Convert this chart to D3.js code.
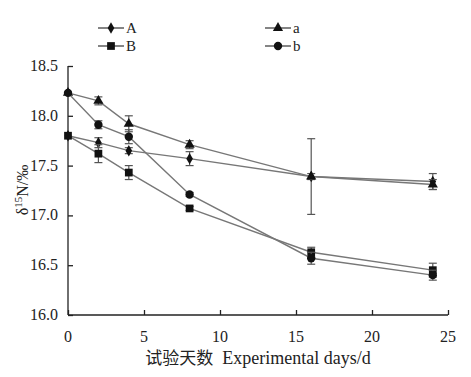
<!DOCTYPE html>
<html>
<head>
<meta charset="utf-8">
<script src="https://cdn.jsdelivr.net/npm/d3@7"></script>
<style>
  body { margin: 0; background: #fff; }
  svg text { font-family: "Liberation Serif", "DejaVu Serif", serif; fill: #222; }
</style>
</head>
<body>
<div class="chart"></div>
<script>
var days = [0, 2, 4, 8, 16, 24];

var A_vals = [17.80, 17.73, 17.65, 17.57, 17.39, 17.34];
var A_err  = [0.00, 0.05, 0.03, 0.07, 0.38, 0.08];
var B_vals = [17.80, 17.62, 17.43, 17.07, 16.63, 16.45];
var B_err  = [0.00, 0.09, 0.07, 0.02, 0.05, 0.07];
var a_vals = [18.23, 18.15, 17.92, 17.71, 17.39, 17.31];
var a_err  = [0.00, 0.04, 0.08, 0.04, 0.03, 0.05];
var b_vals = [18.23, 17.91, 17.79, 17.21, 16.57, 16.40];
var b_err  = [0.00, 0.04, 0.07, 0.02, 0.06, 0.05];

var x_ticks = [0, 5, 10, 15, 20, 25];
var y_ticks = [16.0, 16.5, 17.0, 17.5, 18.0, 18.5];

var SERIES = [
  { name: "A", vals: A_vals, err: A_err, shape: d3.symbolDiamond, size: 38 },
  { name: "B", vals: B_vals, err: B_err, shape: d3.symbolSquare, size: 60 },
  { name: "a", vals: a_vals, err: a_err, shape: d3.symbolTriangle, size: 45 },
  { name: "b", vals: b_vals, err: b_err, shape: d3.symbolCircle, size: 55 }
];

var margin = {top: 66, left: 68},
    width = 380, height = 249;

var svg = d3.select(".chart").append("svg")
  .attr("width", 471).attr("height", 377);

var g = svg.append("g")
  .attr("transform", "translate(" + margin.left + "," + margin.top + ")");

var x = d3.scaleLinear().domain([0, 25]).range([0, width]);
var y = d3.scaleLinear().domain([16, 18.5]).range([height, 0]);

// axes, ticks point inward
var xAxis = d3.axisTop(x).tickValues(x_ticks).tickSize(5).tickFormat("");
var yAxis = d3.axisRight(y).tickValues(y_ticks).tickSize(5).tickFormat("");

g.append("g").attr("transform", "translate(0," + height + ")").call(xAxis)
  .call(function(s){ s.select(".domain").attr("d", "M0,0H" + width); });
g.append("g").call(yAxis)
  .call(function(s){ s.select(".domain").attr("d", "M0,0V" + height); });
g.selectAll(".domain, .tick line").attr("stroke", "#222").attr("stroke-width", 1.3);

g.selectAll(".xlab").data(x_ticks).enter().append("text")
  .attr("x", function(d){ return x(d); })
  .attr("y", height + 27)
  .attr("text-anchor", "middle")
  .style("font-size", "16px")
  .text(function(d){ return d; });

g.selectAll(".ylab").data(y_ticks).enter().append("text")
  .attr("x", -10)
  .attr("y", function(d){ return y(d) + 5; })
  .attr("text-anchor", "end")
  .style("font-size", "16px")
  .text(function(d){ return d.toFixed(1); });

var line = d3.line()
  .x(function(d){ return x(d[0]); })
  .y(function(d){ return y(d[1]); });

SERIES.forEach(function(s) {
  var pts = days.map(function(d, i){ return [d, s.vals[i], s.err[i]]; });

  g.append("path").datum(pts)
    .attr("d", line)
    .attr("fill", "none")
    .attr("stroke", "#777")
    .attr("stroke-width", 1.4);

  var eb = g.append("g").selectAll("g").data(pts.filter(function(p){ return p[2] > 0; }))
    .enter().append("g").attr("stroke", "#555").attr("stroke-width", 1.2);
  eb.append("line")
    .attr("x1", function(p){ return x(p[0]); }).attr("x2", function(p){ return x(p[0]); })
    .attr("y1", function(p){ return y(p[1] + p[2]); })
    .attr("y2", function(p){ return y(p[1] - p[2]); });
  [1, -1].forEach(function(sg) {
    eb.append("line")
      .attr("x1", function(p){ return x(p[0]) - 4; }).attr("x2", function(p){ return x(p[0]) + 4; })
      .attr("y1", function(p){ return y(p[1] + sg * p[2]); })
      .attr("y2", function(p){ return y(p[1] + sg * p[2]); });
  });

  g.selectAll(null).data(pts).enter().append("path")
    .attr("d", d3.symbol().type(s.shape).size(s.size))
    .attr("transform", function(p){ return "translate(" + x(p[0]) + "," + y(p[1]) + ")"; })
    .attr("fill", "#111");
});

// legend
var legendPos = { A: [111, 28], B: [111, 46], a: [278, 28], b: [278, 46] };
SERIES.forEach(function(s) {
  var p = legendPos[s.name];
  var lg = svg.append("g").attr("transform", "translate(" + p[0] + "," + p[1] + ")");
  lg.append("line").attr("x1", -13).attr("x2", 13).attr("stroke", "#333").attr("stroke-width", 1.2);
  lg.append("path").attr("d", d3.symbol().type(s.shape).size(s.size)).attr("fill", "#111");
  lg.append("text").attr("x", 15).attr("y", 5).style("font-size", "15px").text(s.name);
});

// axis titles
svg.append("text")
  .attr("transform", "translate(28," + 190 + ") rotate(-90)")
  .attr("text-anchor", "middle")
  .style("font-size", "16px")
  .html('δ<tspan dy="-6" font-size="11px">15</tspan><tspan dy="6">N/‰</tspan>');

svg.append("text")
  .attr("x", 258).attr("y", 364)
  .attr("text-anchor", "middle")
  .style("font-size", "18px")
  .html('<tspan style="font-family:\'Noto Sans CJK SC\'; font-size:17px">试验天数</tspan>&#160;&#160;Experimental days/d');
</script>
</body>
</html>
